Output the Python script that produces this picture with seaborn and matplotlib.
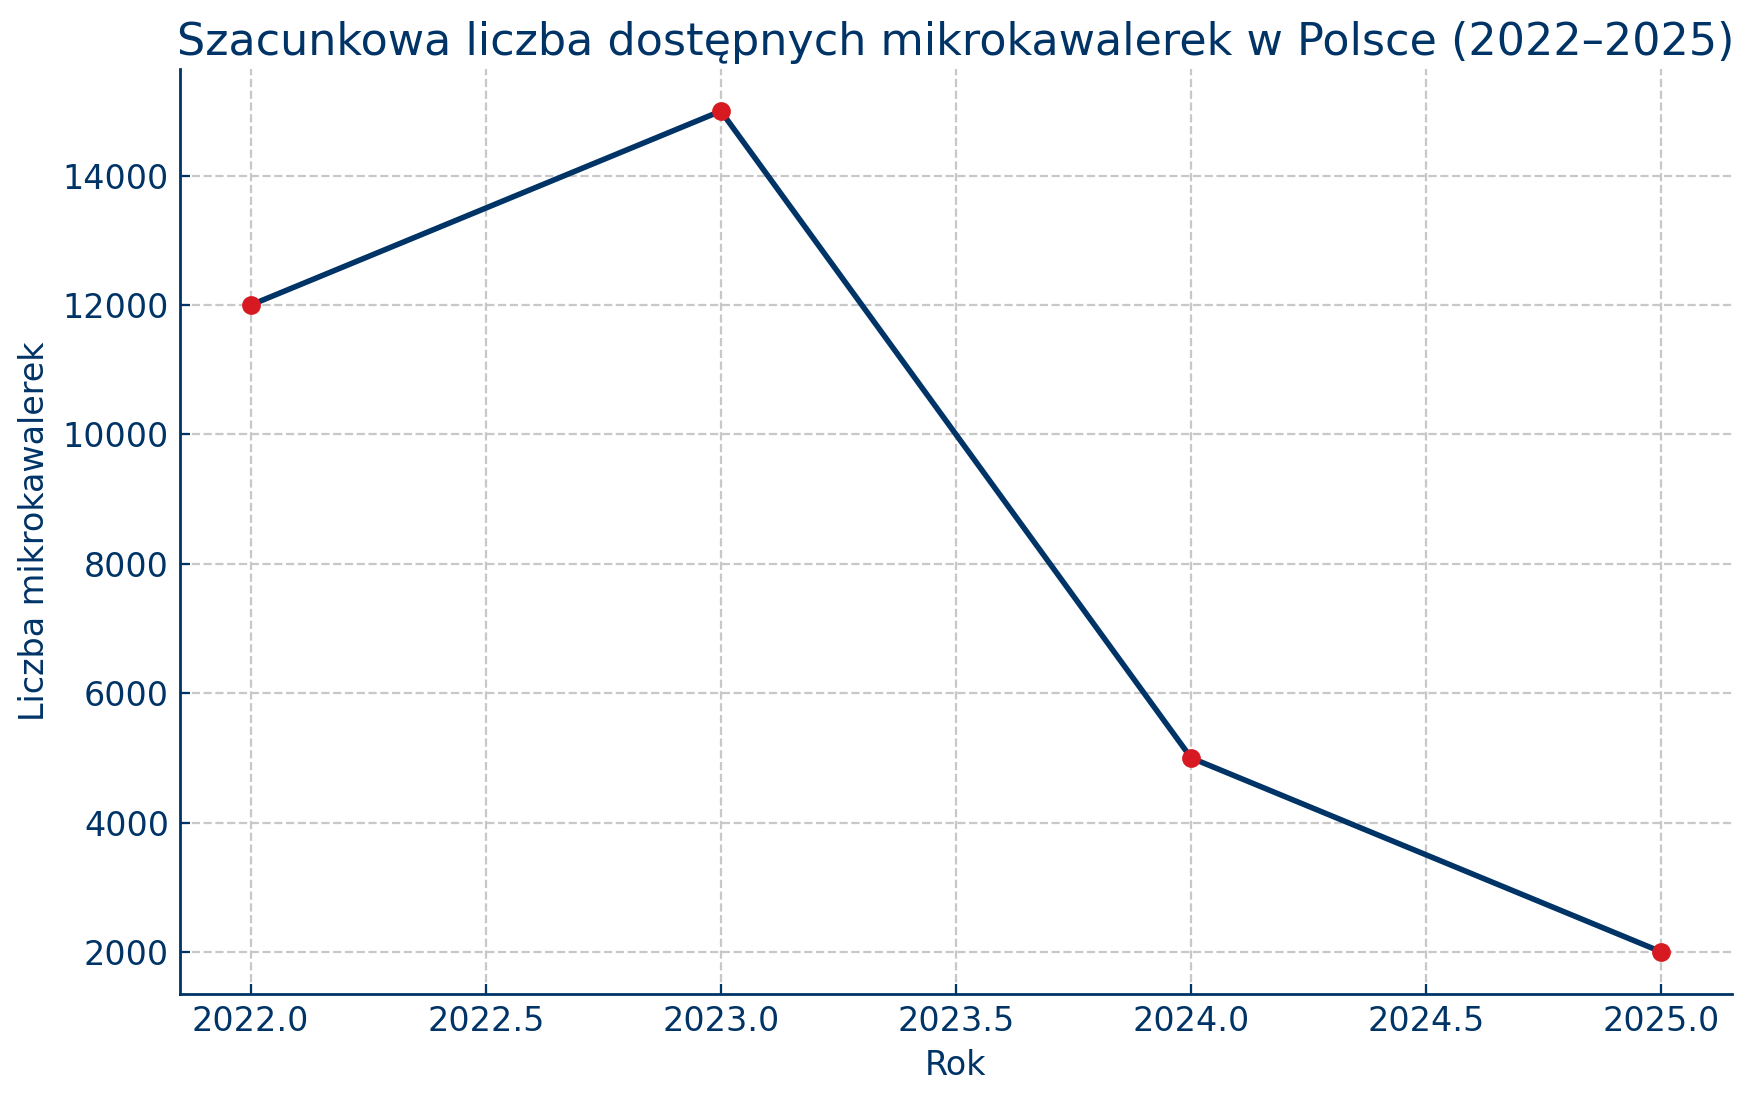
import matplotlib
matplotlib.use('Agg')
import pandas as pd
import matplotlib.pyplot as plt
import seaborn as sns

years = [2022, 2023, 2024, 2025]
counts = [12000, 15000, 5000, 2000]

navy = '#003366'
red = '#d71a21'

df = pd.DataFrame({'Rok': years, 'Liczba': counts})

sns.set_style('white')
plt.rcParams['font.family'] = ['DejaVu Sans']

fig, ax = plt.subplots(figsize=(8.765, 5.505), dpi=200)
fig.subplots_adjust(left=0.1027, right=0.988, top=0.9373, bottom=0.0972)

sns.lineplot(data=df, x='Rok', y='Liczba', ax=ax, color=navy, linewidth=2,
             marker='o', markersize=6, markerfacecolor=red, markeredgecolor=red)

ax.set_title('Szacunkowa liczba dostępnych mikrokawalerek w Polsce (2022–2025)',
             fontsize=16, color=navy, pad=5)
ax.set_xlabel('Rok', fontsize=12, color=navy)
ax.set_ylabel('Liczba mikrokawalerek', fontsize=12, color=navy)

ax.grid(True, linestyle='--', color='#c8c8c8', linewidth=0.8)
ax.set_axisbelow(True)
sns.despine(ax=ax)
for side in ['left', 'bottom']:
    ax.spines[side].set_color(navy)
    ax.spines[side].set_linewidth(1.0)
ax.tick_params(axis='both', direction='in', length=3.5, color=navy,
               labelcolor=navy, labelsize=12, pad=4, left=True, bottom=True)

plt.savefig('out.png', dpi=200)
